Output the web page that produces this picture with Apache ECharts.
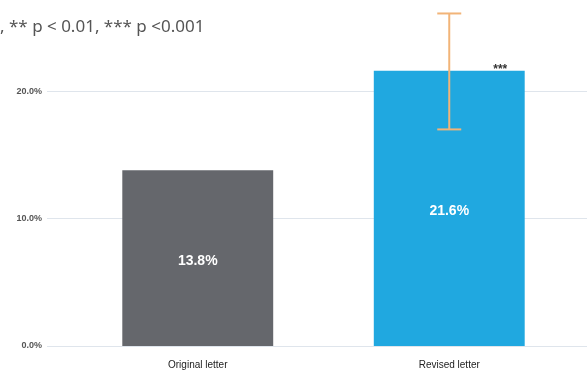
<!DOCTYPE html>
<html>
<head>
<meta charset="utf-8">
<script src="https://cdn.jsdelivr.net/npm/echarts@6/dist/echarts.min.js"></script>
<style>
  html, body { margin: 0; padding: 0; background: #fff; }
  #chart { width: 587px; height: 375px; }
</style>
</head>
<body>
<div id="chart"></div>
<script>
// chart data
const categories = ['Original letter', 'Revised letter']
const values = [13.8, 21.6]
const errLow = [null, 17.0]
const errHigh = [null, 26.1]
const significance = ['', '***']
const yTicks = [0, 10, 20]
const note = ', ** p < 0.01, *** p <0.001'

const yMax = 27
let myChart = echarts.init(document.getElementById('chart'))

let errData = categories.map((c, i) => [i, errLow[i], errHigh[i], values[i], significance[i]])

let option = {
  animation: false,
  title: {
    text: note,
    left: 0,
    top: 19,
    padding: 0,
    textStyle: { fontFamily: 'Noto Sans', fontSize: 17, fontWeight: 'normal', color: '#555' }
  },
  grid: [
    { left: 47, right: 0, top: 2, bottom: 29 },
    { left: 72, right: 12, top: 2, bottom: 29 }
  ],
  xAxis: [
    { type: 'category', gridIndex: 0, data: categories, show: false },
    {
      type: 'category', gridIndex: 1, data: categories,
      axisLine: { show: false }, axisTick: { show: false },
      axisLabel: { margin: 14, fontFamily: 'Arial', fontSize: 10, color: '#222' }
    }
  ],
  yAxis: [
    {
      type: 'value', gridIndex: 0, min: 0, max: yMax, interval: 10,
      axisLine: { show: false }, axisTick: { show: false },
      axisLabel: {
        margin: 5, fontFamily: 'Arial', fontSize: 9, fontWeight: 'bold', color: '#555',
        showMaxLabel: false,
        formatter: v => (yTicks.indexOf(v) >= 0 ? v.toFixed(1) + '%' : '')
      },
      splitLine: { showMaxLine: false, lineStyle: { color: '#dfe5ec', width: 1 } }
    },
    { type: 'value', gridIndex: 1, min: 0, max: yMax, show: false, splitLine: { show: false } }
  ],
  series: [
    {
      type: 'bar',
      xAxisIndex: 1,
      yAxisIndex: 1,
      barWidth: '60%',
      data: values.map((v, i) => ({
        value: v,
        itemStyle: { color: i === 0 ? '#65676c' : '#20a8e0' }
      })),
      label: {
        show: true,
        position: 'inside',
        offset: [0, 3],
        formatter: p => p.value.toFixed(1) + '%',
        fontFamily: 'Arial',
        fontSize: 14,
        fontWeight: 'bold',
        color: '#fff'
      }
    },
    {
      type: 'custom',
      xAxisIndex: 1,
      yAxisIndex: 1,
      data: errData,
      z: 10,
      renderItem: function(params, api) {
        let i = api.value(0)
        let children = []
        if (errLow[i] != null) {
          let lo = api.coord([i, api.value(1)])
          let hi = api.coord([i, api.value(2)])
          let cap = 12
          let st = { stroke: '#f2b478', lineWidth: 2 }
          children.push(
            { type: 'line', shape: { x1: hi[0], y1: hi[1], x2: lo[0], y2: lo[1] }, style: st },
            { type: 'line', shape: { x1: hi[0] - cap, y1: hi[1], x2: hi[0] + cap, y2: hi[1] }, style: st },
            { type: 'line', shape: { x1: lo[0] - cap, y1: lo[1], x2: lo[0] + cap, y2: lo[1] }, style: st }
          )
        }
        if (significance[i]) {
          let top = api.coord([i, api.value(3)])
          children.push({
            type: 'text',
            style: {
              x: top[0] + 51, y: top[1] - 1,
              text: significance[i],
              fontFamily: 'Arial', fontSize: 12, fontWeight: 'bold',
              fill: '#333', align: 'center', verticalAlign: 'middle'
            }
          })
        }
        return { type: 'group', children: children }
      }
    }
  ]
}
myChart.setOption(option, true)
</script>
</body>
</html>
